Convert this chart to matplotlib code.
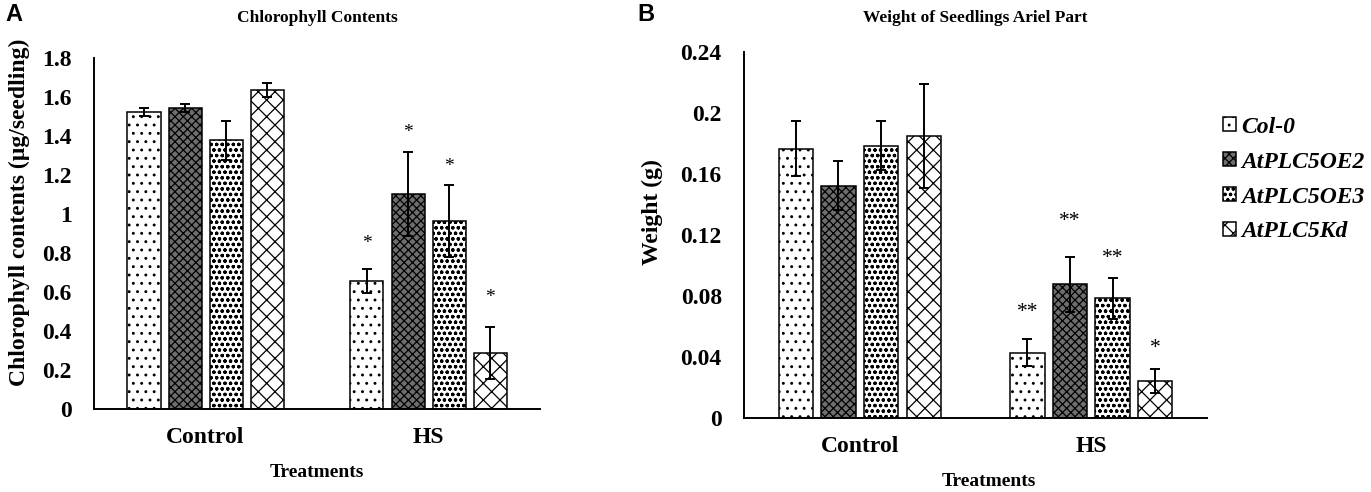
import matplotlib
matplotlib.use("Agg")
import matplotlib.pyplot as plt
import numpy as np

# data
groups = ["Control", "HS"]
lines = ["Col-0", "AtPLC5OE2", "AtPLC5OE3", "AtPLC5Kd"]

chl_mean = {"Col-0": [1.525, 0.656], "AtPLC5OE2": [1.542, 1.103],
            "AtPLC5OE3": [1.378, 0.964], "AtPLC5Kd": [1.636, 0.289]}
chl_err = {"Col-0": [0.02, 0.062], "AtPLC5OE2": [0.02, 0.217],
           "AtPLC5OE3": [0.10, 0.185], "AtPLC5Kd": [0.037, 0.133]}
chl_sig = ["*", "*", "*", "*"]
chl_sig_y = [0.851, 1.42, 1.246, 0.574]

wt_mean = {"Col-0": [0.1767, 0.0427], "AtPLC5OE2": [0.1525, 0.0877],
           "AtPLC5OE3": [0.1786, 0.0785], "AtPLC5Kd": [0.185, 0.0241]}
wt_err = {"Col-0": [0.018, 0.009], "AtPLC5OE2": [0.016, 0.018],
          "AtPLC5OE3": [0.016, 0.0135], "AtPLC5Kd": [0.034, 0.0077]}
wt_sig = ["**", "**", "**", "*"]
wt_sig_y = [0.069, 0.1289, 0.1048, 0.0456]

styles = {
    "Col-0": dict(facecolor="white", hatch=".."),
    "AtPLC5OE2": dict(facecolor="#6e6e6e", hatch="xxxx"),
    "AtPLC5OE3": dict(facecolor="white", hatch="ooo"),
    "AtPLC5Kd": dict(facecolor="white", hatch="xx"),
}

plt.rcParams["font.family"] = ["Liberation Serif", "DejaVu Serif"]
plt.rcParams["font.weight"] = "bold"
plt.rcParams["axes.labelweight"] = "bold"
plt.rcParams["axes.titleweight"] = "bold"
plt.rcParams["hatch.linewidth"] = 0.9

fig = plt.figure(figsize=(13.71, 4.92), dpi=100)
axA = fig.add_axes([0.0686, 0.1687, 0.3253, 0.7134])
axB = fig.add_axes([0.5427, 0.151, 0.3377, 0.7427])

x = np.arange(len(groups))
step = 0.184
width = 0.148


def draw(ax, means, errs, sig, sig_y, star_size, ylim, yticks, yticklabels,
         ylabel, title, ylab_xy, xlab_xy, title_pad):
    for i, ln in enumerate(lines):
        pos = x + (i - 1.5) * step
        ax.bar(pos, means[ln], width, edgecolor="black", linewidth=1.1,
               label=ln, **styles[ln])
        ax.errorbar(pos, means[ln], yerr=errs[ln], fmt="none", ecolor="black",
                    elinewidth=1.4, capsize=3.5, capthick=1.4)
        ax.text(pos[1], sig_y[i], sig[i], ha="center", va="center",
                fontsize=star_size, fontweight="normal")
    ax.set_xlim(-0.5, 1.5)
    ax.set_ylim(*ylim)
    ax.set_yticks(yticks)
    ax.set_yticklabels(yticklabels)
    ax.set_xticks(x)
    ax.set_xticklabels(groups)
    ax.tick_params(axis="both", length=0, labelsize=17)
    ax.tick_params(axis="y", pad=16)
    ax.tick_params(axis="x", pad=13)
    for s in ["top", "right"]:
        ax.spines[s].set_visible(False)
    for s in ["left", "bottom"]:
        ax.spines[s].set_linewidth(1.4)
    ax.set_ylabel(ylabel, fontsize=17)
    ax.yaxis.set_label_coords(*ylab_xy)
    ax.set_xlabel("Treatments", fontsize=14)
    ax.xaxis.set_label_coords(*xlab_xy)
    ax.set_title(title, fontsize=12.5, pad=title_pad)


draw(axA, chl_mean, chl_err, chl_sig, chl_sig_y, 14, (0, 1.8),
     np.arange(0, 1.81, 0.2), ["0", "0.2", "0.4", "0.6", "0.8", "1", "1.2", "1.4", "1.6", "1.8"],
     "Chlorophyll contents (µg/seedling)", "Chlorophyll Contents",
     (-0.144, 0.561), (0.5, -0.157), 26)
draw(axB, wt_mean, wt_err, wt_sig, wt_sig_y, 15.5, (0, 0.24),
     np.arange(0, 0.241, 0.04), ["0", "0.04", "0.08", "0.12", "0.16", "0.2", "0.24"],
     "Weight (g)", "Weight of Seedlings Ariel Part",
     (-0.175, 0.562), (0.529, -0.152), 22)

fig.text(0.0036, 0.994, "A", fontsize=17, fontweight="bold",
         family="Liberation Sans", va="top")
fig.text(0.4646, 0.994, "B", fontsize=17, fontweight="bold",
         family="Liberation Sans", va="top")

h, l = axB.get_legend_handles_labels()
fig.legend(h, l, loc="upper left", bbox_to_anchor=(0.8768, 0.806), frameon=False,
           handlelength=0.55, handleheight=0.55, handletextpad=0.2, labelspacing=0.59,
           prop=dict(family="Liberation Serif", style="italic", weight="bold", size=17))

fig.savefig("out.png", dpi=100)
